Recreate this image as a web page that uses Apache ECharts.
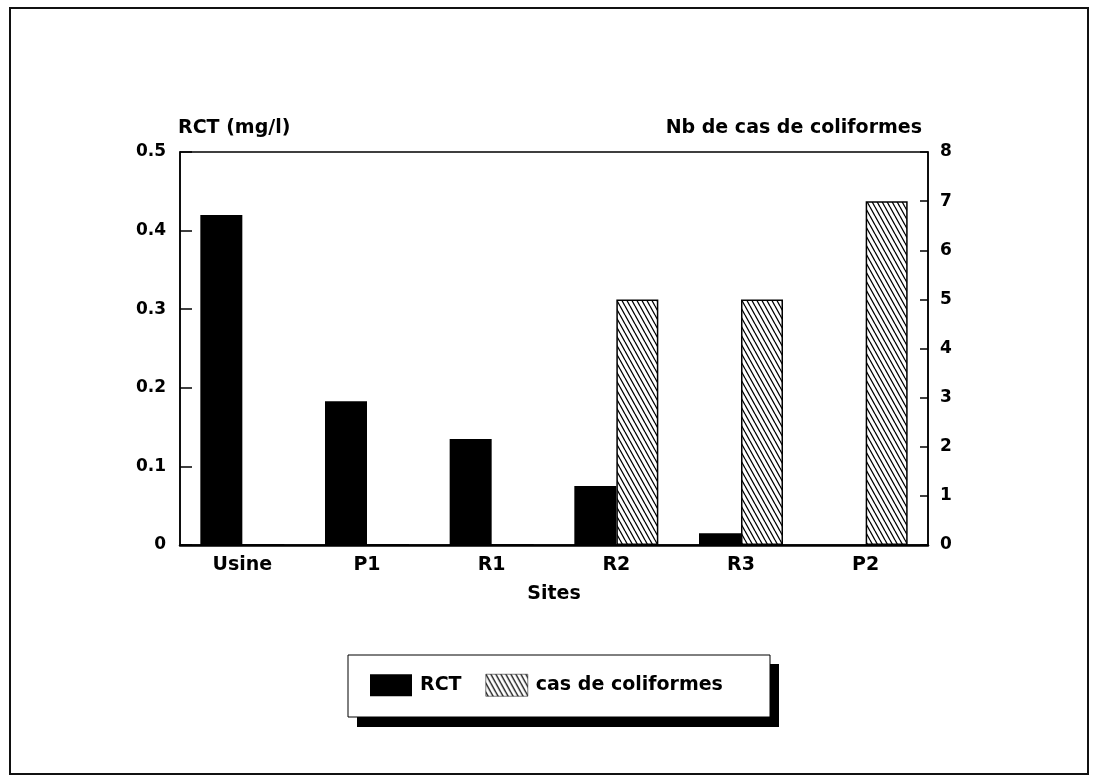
<!DOCTYPE html>
<html>
<head>
<meta charset="utf-8">
<script src="https://cdn.jsdelivr.net/npm/echarts@6/dist/echarts.min.js"></script>
<style>
  html, body { margin: 0; padding: 0; background: #fff; }
  #main { width: 1097px; height: 781px; }
</style>
</head>
<body>
<div id="main"></div>
<script>
// données
const sites = ['Usine', 'P1', 'R1', 'R2', 'R3', 'P2'];
const rct = [0.42, 0.183, 0.135, 0.075, 0.015, 0];
const coliformes = [0, 0, 0, 5, 5, 7];
const leftTicks = [0, 0.1, 0.2, 0.3, 0.4, 0.5];
const rightTicks = [0, 1, 2, 3, 4, 5, 6, 7, 8];

// motif hachuré (traits obliques \\\)
function makeHatch() {
    const w = 5, h = 9;
    const c = document.createElement('canvas');
    c.width = w; c.height = h;
    const ctx = c.getContext('2d');
    ctx.fillStyle = '#fff';
    ctx.fillRect(0, 0, w, h);
    ctx.strokeStyle = '#000';
    ctx.lineWidth = 1.3;
    ctx.beginPath();
    for (let k = -1; k <= 1; k++) {
        ctx.moveTo(k * w, 0);
        ctx.lineTo(k * w + w, h);
    }
    ctx.stroke();
    return c;
}
const hatch = { image: makeHatch(), repeat: 'repeat' };

const font = 'DejaVu Sans, Liberation Sans, sans-serif';
const txt = { fontFamily: font, fontSize: 17, fontWeight: 'bold', color: '#000' };
const big = Object.assign({}, txt, { fontSize: 19 });

const chartDom = document.getElementById('main');
const myChart = echarts.init(chartDom);

const option = {
    backgroundColor: '#fff',
    animation: false,
    textStyle: { fontFamily: font, color: '#000' },
    graphic: [
        {
            type: 'rect',
            shape: { x: 10, y: 8, width: 1078, height: 766 },
            style: { fill: 'none', stroke: '#111', lineWidth: 2 },
            silent: true, z: -10
        },
        // ombre + cadre de la légende
        {
            type: 'rect',
            shape: { x: 357, y: 664, width: 422, height: 63 },
            style: { fill: '#000' },
            silent: true, z: -5
        },
        {
            type: 'rect',
            shape: { x: 348, y: 655, width: 422, height: 62 },
            style: { fill: '#fff', stroke: '#000', lineWidth: 1 },
            silent: true, z: -4
        }
    ],
    grid: {
        left: 180, right: 169, top: 152, bottom: 236,
        show: true, borderColor: '#000', borderWidth: 1.5, backgroundColor: 'transparent'
    },
    legend: {
        left: 370,
        top: 674,
        padding: 0,
        icon: 'rect',
        itemWidth: 42,
        itemHeight: 22,
        itemGap: 24,
        textStyle: Object.assign({}, big, { padding: [0, 0, 0, 3] }),
        data: [
            { name: 'RCT', itemStyle: { color: '#000' } },
            { name: 'cas de coliformes', itemStyle: { color: hatch, borderColor: '#000', borderWidth: 0.5 } }
        ]
    },
    xAxis: {
        type: 'category',
        data: sites,
        name: 'Sites',
        nameLocation: 'middle',
        nameGap: 40,
        nameTextStyle: big,
        axisLine: { lineStyle: { color: '#000', width: 2.5 } },
        axisTick: { show: false },
        axisLabel: Object.assign({}, big, { margin: 11 })
    },
    yAxis: [
        {
            type: 'value',
            min: leftTicks[0],
            max: leftTicks[leftTicks.length - 1],
            interval: 0.1,
            name: 'RCT (mg/l)',
            nameLocation: 'end',
            nameGap: 14,
            nameTextStyle: Object.assign({}, big, { align: 'left', padding: [0, 0, 0, -2] }),
            axisLine: { show: true, lineStyle: { color: '#000', width: 1.5 } },
            axisTick: { show: true, inside: true, length: 12, lineStyle: { color: '#000', width: 1.5 } },
            splitLine: { show: false },
            axisLabel: Object.assign({}, txt, {
                margin: 14,
                formatter: function (v) { return v === 0 ? '0' : v.toFixed(1); }
            })
        },
        {
            type: 'value',
            min: rightTicks[0],
            max: rightTicks[rightTicks.length - 1],
            interval: 1,
            name: 'Nb de cas de coliformes',
            nameLocation: 'end',
            nameGap: 14,
            nameTextStyle: Object.assign({}, big, { align: 'right', padding: [0, 6, 0, 0] }),
            axisLine: { show: true, lineStyle: { color: '#000', width: 1.5 } },
            axisTick: { show: true, inside: true, length: 8, lineStyle: { color: '#000', width: 1.5 } },
            splitLine: { show: false },
            axisLabel: Object.assign({}, txt, { margin: 12 })
        }
    ],
    series: [
        {
            name: 'RCT',
            type: 'bar',
            yAxisIndex: 0,
            data: rct,
            barWidth: 42,
            barGap: '0%',
            itemStyle: { color: '#000' }
        },
        {
            name: 'cas de coliformes',
            type: 'bar',
            yAxisIndex: 1,
            data: coliformes,
            barWidth: 42,
            barGap: '0%',
            itemStyle: { color: hatch, borderColor: '#000', borderWidth: 1.5 }
        }
    ]
};

myChart.setOption(option);
</script>
</body>
</html>
